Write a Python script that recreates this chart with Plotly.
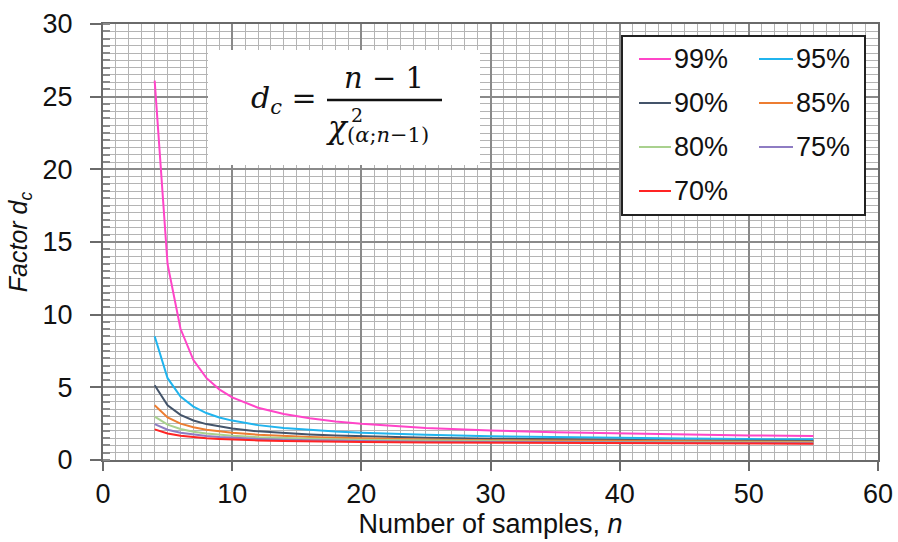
import plotly.graph_objects as go

n_vals = [4, 5, 6, 7, 8, 9, 10, 12, 14, 16, 18, 20, 25, 30, 35, 40, 45, 50, 55]
labels = ["99%", "95%", "90%", "85%", "80%", "75%", "70%"]
dc_99 = [26.1, 13.47, 9.03, 6.88, 5.65, 4.86, 4.31, 3.60, 3.17, 2.87, 2.65, 2.49, 2.21, 2.03, 1.91, 1.82, 1.75, 1.69, 1.65]
dc_95 = [8.52, 5.63, 4.37, 3.67, 3.23, 2.93, 2.71, 2.40, 2.21, 2.07, 1.96, 1.88, 1.73, 1.64, 1.57, 1.52, 1.48, 1.44, 1.42]
dc_90 = [5.14, 3.76, 3.11, 2.72, 2.47, 2.29, 2.16, 1.97, 1.85, 1.76, 1.69, 1.63, 1.53, 1.47, 1.42, 1.38, 1.35, 1.33, 1.31]
dc_85 = [3.76, 2.93, 2.50, 2.25, 2.08, 1.96, 1.87, 1.74, 1.65, 1.58, 1.53, 1.49, 1.41, 1.36, 1.33, 1.30, 1.28, 1.26, 1.25]
dc_80 = [2.99, 2.43, 2.13, 1.95, 1.83, 1.74, 1.67, 1.57, 1.51, 1.46, 1.42, 1.39, 1.33, 1.29, 1.26, 1.24, 1.22, 1.21, 1.20]
dc_75 = [2.47, 2.08, 1.87, 1.74, 1.65, 1.58, 1.53, 1.45, 1.40, 1.36, 1.33, 1.30, 1.26, 1.23, 1.21, 1.19, 1.18, 1.17, 1.16]
dc_70 = [2.11, 1.82, 1.67, 1.57, 1.50, 1.45, 1.41, 1.35, 1.31, 1.28, 1.26, 1.24, 1.20, 1.18, 1.16, 1.15, 1.14, 1.13, 1.12]
series = [dc_99, dc_95, dc_90, dc_85, dc_80, dc_75, dc_70]
colors = ["#FF45C8", "#20B4EE", "#44546A", "#ED7D31", "#A9D18E", "#8E7CC3", "#FF2424"]

FONT = "Liberation Sans, Arial, sans-serif"
MATH = "DejaVu Serif, Liberation Serif, serif"

# plot area in screen pixels: x 103..878, y 24..460
PX0, PX1, PY0, PY1 = 103, 878, 24, 460
def px(x):
    return (x - PX0) / (PX1 - PX0)
def py(y):
    return (PY1 - y) / (PY1 - PY0)

fig = go.Figure()
for lab, ys, col in zip(labels, series, colors):
    fig.add_trace(go.Scatter(x=n_vals, y=ys, mode="lines", name=lab,
                             line=dict(color=col, width=2), showlegend=False))

shapes = []
annotations = []

# formula box
shapes.append(dict(type="rect", xref="paper", yref="paper", x0=px(208), x1=px(480), y0=py(165), y1=py(50),
                   fillcolor="white", line=dict(width=0), layer="above"))
annotations.append(dict(xref="paper", yref="paper", x=px(284), y=py(99),
                        text="<i>d<sub>c</sub></i> =", showarrow=False,
                        font=dict(family=MATH, size=30, color="#111"), xanchor="center", yanchor="middle"))
annotations.append(dict(xref="paper", yref="paper", x=px(384), y=py(78),
                        text="<i>n</i> − 1", showarrow=False,
                        font=dict(family=MATH, size=29, color="#111"), xanchor="center", yanchor="middle"))
shapes.append(dict(type="line", xref="paper", yref="paper", x0=px(327), x1=px(442),
                   y0=py(100), y1=py(100), line=dict(color="#111", width=2.5), layer="above"))
annotations.append(dict(xref="paper", yref="paper", x=px(324), y=py(127),
                        text="<i>χ</i>", showarrow=False,
                        font=dict(family=MATH, size=31, color="#111"), xanchor="left", yanchor="middle"))
annotations.append(dict(xref="paper", yref="paper", x=px(349), y=py(115),
                        text="2", showarrow=False,
                        font=dict(family=MATH, size=19, color="#111"), xanchor="left", yanchor="middle"))
annotations.append(dict(xref="paper", yref="paper", x=px(345), y=py(135),
                        text="(<i>α</i>;<i>n</i>−1)", showarrow=False,
                        font=dict(family=MATH, size=21, color="#111"), xanchor="left", yanchor="middle"))

# legend box
shapes.append(dict(type="rect", xref="paper", yref="paper", x0=px(622), x1=px(865),
                   y0=py(215), y1=py(36), fillcolor="white",
                   line=dict(color="#222", width=2), layer="above"))
rows = [59, 103, 147, 191]
cols = [(639, 671), (759, 793)]
for i, (lab, col) in enumerate(zip(labels, colors)):
    r, c = divmod(i, 2)
    yy = rows[r]
    x0, x1 = cols[c]
    shapes.append(dict(type="line", xref="paper", yref="paper", x0=px(x0), x1=px(x1),
                       y0=py(yy), y1=py(yy), line=dict(color=col, width=2), layer="above"))
    annotations.append(dict(xref="paper", yref="paper", x=px(x1 + 1), y=py(yy),
                            text=lab, showarrow=False, xanchor="left", yanchor="middle",
                            font=dict(family=FONT, size=27, color="#111")))

W, H = 898, 542
fig.update_layout(
    width=W, height=H,
    margin=dict(l=PX0, r=W - PX1, t=PY0, b=H - PY1),
    paper_bgcolor="white", plot_bgcolor="white",
    font=dict(family=FONT, size=27, color="#111"),
    shapes=shapes, annotations=annotations,
    hovermode=False,
    xaxis=dict(range=[0, 60], dtick=10, tick0=0, showgrid=True, gridcolor="#8a8a8a", gridwidth=1.5,
               showline=True, linecolor="#6a6a6a", linewidth=2, mirror=True, automargin=False,
               ticks="outside", ticklen=9, tickcolor="#6a6a6a", tickwidth=1.5,
               minor=dict(dtick=1, showgrid=True, gridcolor="#b4b4b4", gridwidth=1.3),
               zeroline=False, tickfont=dict(size=27),
               title=dict(text="Number of samples, <i>n</i>", font=dict(size=27), standoff=2)),
    yaxis=dict(range=[0, 30], dtick=5, tick0=0, showgrid=True, gridcolor="#8a8a8a", gridwidth=1.5,
               showline=True, linecolor="#6a6a6a", linewidth=2, mirror=True, automargin=False,
               ticks="outside", ticklen=11, tickcolor="#6a6a6a", tickwidth=1.5,
               ticklabelstandoff=12,
               minor=dict(dtick=0.5, showgrid=True, gridcolor="#b4b4b4", gridwidth=1.3,
                          ticks="inside", ticklen=7, tickcolor="#8a8a8a"),
               zeroline=False, tickfont=dict(size=27),
               title=dict(text="<i>Factor d<sub>c</sub></i>", font=dict(size=25), standoff=8)),
)

fig.write_html("out.html", config={"displayModeBar": False},
               post_script="document.body.style.margin='0';document.body.style.overflow='hidden';")
